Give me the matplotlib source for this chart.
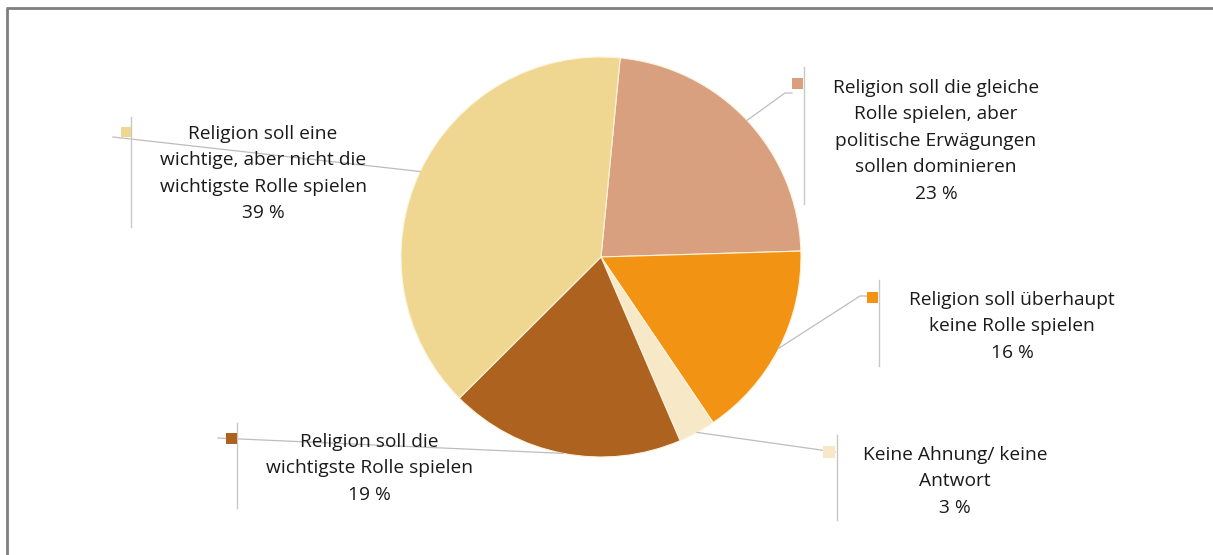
import numpy as np
import matplotlib
matplotlib.use("Agg")
import matplotlib.pyplot as plt

# slices, clockwise from the top
labels = [
    "Religion soll die gleiche\nRolle spielen, aber\npolitische Erwägungen\nsollen dominieren",
    "Religion soll überhaupt\nkeine Rolle spielen",
    "Keine Ahnung/ keine\nAntwort",
    "Religion soll die\nwichtigste Rolle spielen",
    "Religion soll eine\nwichtige, aber nicht die\nwichtigste Rolle spielen",
]
values = [23, 16, 3, 19, 39]
colors = ["#D9A07F", "#F39314", "#F7E8C8", "#AD6220", "#EFD792"]

W, H = 1213, 555
plt.rcParams['font.family'] = ['Open Sans', 'DejaVu Sans']

fig = plt.figure(figsize=(W / 100, H / 100), dpi=100)
ax = fig.add_axes([0, 0, 1, 1])


def py(y):
    # pixel row -> data y
    return H - y


cx, cy, r = 601, 257, 200
wedges, _ = ax.pie(values, colors=colors, startangle=84.5, counterclock=False,
                   center=(cx, py(cy)), radius=r,
                   wedgeprops=dict(edgecolor="#FFF3DC", linewidth=0.8))
# pie resets the limits, so set them afterwards
ax.set_xlim(0, W)
ax.set_ylim(0, H)
ax.set_aspect('equal')
ax.axis('off')

# label layout: marker square (x0, y0, size), elbow point, leader end, vline x, vline y range, text centre
layout = [
    dict(sq=(792, 78, 11), elbow=(785, 93), end=(792, 93), vx=804, vy=(67, 204), tx=936, ty=86),
    dict(sq=(867, 292, 11), elbow=(860, 296), end=(867, 296), vx=879, vy=(280, 366), tx=1012, ty=298),
    dict(sq=(823, 446, 12), elbow=None, end=(835, 452), vx=837, vy=(435, 520), tx=955, ty=453),
    dict(sq=(226, 433, 11), elbow=None, end=(218, 438), vx=237, vy=(423, 508), tx=369, ty=440),
    dict(sq=(121, 127, 10), elbow=None, end=(113, 137), vx=131, vy=(117, 227), tx=263, ty=132),
]

line_col = "#BDBDBD"
for w, lab, val, col, lo in zip(wedges, labels, values, colors, layout):
    mid = np.deg2rad((w.theta1 + w.theta2) / 2)
    sx = cx + r * np.cos(mid)
    sy = py(cy) + r * np.sin(mid)
    xs, ys = [sx], [sy]
    if lo["elbow"]:
        xs.append(lo["elbow"][0]); ys.append(py(lo["elbow"][1]))
    xs.append(lo["end"][0]); ys.append(py(lo["end"][1]))
    ax.plot(xs, ys, color=line_col, lw=0.9, zorder=3)
    ax.plot([lo["vx"], lo["vx"]], [py(lo["vy"][0]), py(lo["vy"][1])],
            color="#C8C8C8", lw=1.0, zorder=3)
    x0, y0, s = lo["sq"]
    ax.add_patch(plt.Rectangle((x0, py(y0 + s)), s, s, facecolor=col,
                               edgecolor="none", zorder=4))
    ax.text(lo["tx"], py(lo["ty"] - 7), lab + "\n%d %%" % val, ha="center", va="top",
            fontsize=13.8, color="#1A1A1A", linespacing=1.60, zorder=5)

# frame (top and left only visible)
ax.plot([7, 7], [0, py(8)], color="#7F7F7F", lw=2, solid_capstyle="butt")
ax.plot([6, W], [py(8), py(8)], color="#7F7F7F", lw=2, solid_capstyle="butt")

fig.savefig("out.png", dpi=100)
